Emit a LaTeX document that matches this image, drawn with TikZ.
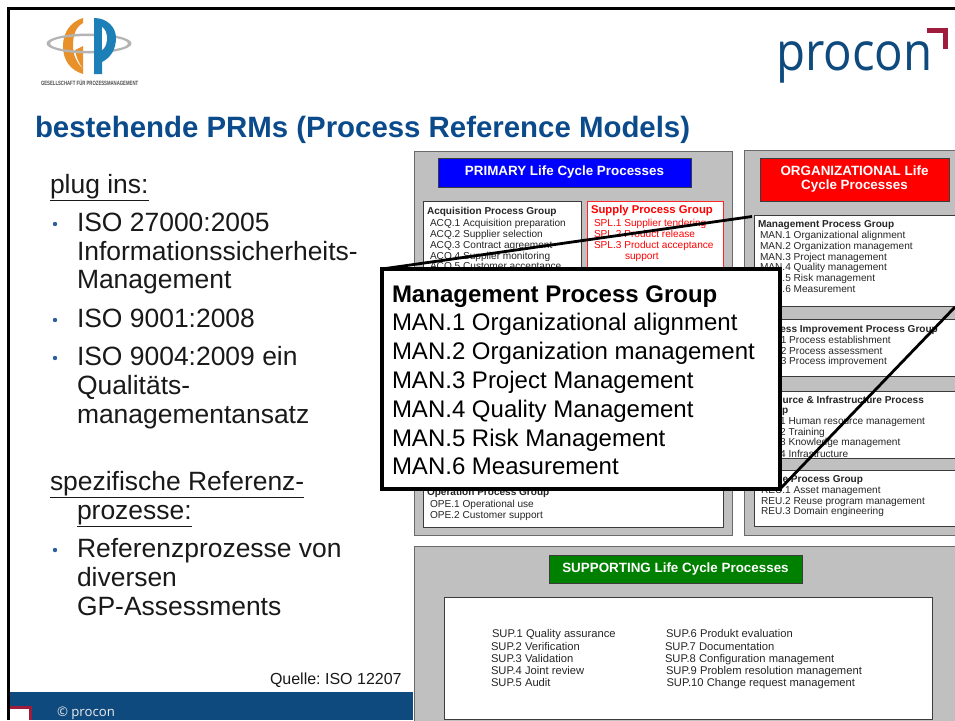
\documentclass[tikz,border=0pt]{standalone}
\usepackage{fontspec}
\setmainfont{Liberation Sans}
\newfontfamily\opensans{Open Sans}
\frenchspacing
\definecolor{procblue}{HTML}{0F4A7E}
\definecolor{titleblue}{HTML}{0B4B8C}
\definecolor{procred}{HTML}{A01C3C}
\definecolor{panelgray}{HTML}{C0C0C0}
\definecolor{edgegray}{HTML}{6A6A6A}
\definecolor{boxedge}{HTML}{3C3C3C}
\definecolor{gporange}{HTML}{E8912B}
\definecolor{gpblue}{HTML}{1C7FB8}
\definecolor{ringgray}{HTML}{B4B4B4}
\definecolor{bulletblue}{HTML}{2A5F9E}
\newcounter{tn}
\newcommand{\T}[4][]{\stepcounter{tn}\node[txt,#1] (t\arabic{tn}) at (#2,#3) {#4};}
\newcommand{\Bu}[2]{\stepcounter{tn}\node[bul] (t\arabic{tn}) at (#1,#2) {};}
\tikzset{
  txt/.style={anchor=base west,inner sep=0pt,outer sep=0pt},
  bul/.style={circle,fill=bulletblue,minimum size=4.4pt,inner sep=0pt},
  small/.style={font=\fontsize{10.1}{11}\selectfont,text=black!85},
  smallb/.style={font=\bfseries\fontsize{10.05}{11}\selectfont,text=black!85},
  smallr/.style={font=\fontsize{10.1}{11}\selectfont,text=red},
  smallrb/.style={font=\bfseries\fontsize{11.3}{12}\selectfont,text=red},
  supt/.style={font=\fontsize{11.2}{12}\selectfont,text=black!85},
  big/.style={font=\fontsize{26.45}{30}\selectfont,text=black!90},
  panel/.style={draw=edgegray,fill=panelgray,line width=1pt},
  wbox/.style={draw=boxedge,fill=white,line width=.9pt},
  head/.style={draw=boxedge,line width=.9pt,align=center,text=white,font=\bfseries\fontsize{13.4}{14}\selectfont},
  mag/.style={font=\fontsize{24}{28}\selectfont,text=black},
  zoomline/.style={draw=black,line width=2.8pt},
}
\newcommand{\Bx}[6][]{\node[anchor=north west,inner sep=0pt,outer sep=0pt,minimum width=#5-#3,minimum height=#6-#4,#1] (#2) at (#3,#4) {};}
\begin{document}
\begin{tikzpicture}[x=1pt,y=-1pt]
\useasboundingbox (0,0) rectangle (955,720);
\clip (0,0) rectangle (955,720);
\fill[white] (0,0) rectangle (955,720);
% GP logo
\fill[gporange] (83,18) .. controls (70,22) and (63,33) .. (63,46) .. controls (63,60) and (70,70) .. (83,74) -- (83,69) .. controls (76,62) and (73,54) .. (73,46) .. controls (73,34) and (76,27) .. (83,23) -- cycle;
\fill[gporange] (75,50) -- (83,46) -- (83,69) .. controls (79,63) and (76,57) .. (75,50) -- cycle;
\fill[ringgray,even odd rule] (89,43.5) ellipse [x radius=42.5,y radius=10] (89,43.5) ellipse [x radius=39,y radius=7.5];
\fill[gpblue] (94,18) .. controls (108,18) and (116,28) .. (116,38) .. controls (116,50) and (110,58) .. (102,62) -- (102,74) -- (94,74) -- cycle;
\fill[white] (102,27) .. controls (105,29) and (107,33) .. (107,38) .. controls (107,44) and (105,48) .. (102,50) -- cycle;
\T[font=\bfseries\fontsize{6.2}{7}\selectfont,text=black!70]{41}{85}{\scalebox{.69}[1]{GESELLSCHAFT FÜR PROZESSMANAGEMENT}}
% procon logo
\T[font=\opensans\fontsize{53}{60}\selectfont,text=procblue]{776}{70}{\scalebox{.895}[1]{procon}}
\node[inner sep=0pt,outer sep=0pt] (cornerA) at (927,30.5) {};
\node[inner sep=0pt,outer sep=0pt] (cornerB) at (945.5,30.5) {};
\node[inner sep=0pt,outer sep=0pt] (cornerC) at (945.5,49) {};
\draw[procred,line width=5.5pt] (cornerA.center) -- (cornerB.center) -- (cornerC.center);
% title
\T[font=\bfseries\fontsize{29.4}{32}\selectfont,text=titleblue]{35}{137}{bestehende PRMs (Process Reference Models)}
% left text
\T[big]{50}{193}{\underline{plug ins:}}
\Bu{55}{224}
\T[big]{77}{231}{ISO 27000:2005}
\T[big]{77}{260}{Informationssicherheits-}
\T[big]{77}{288}{Management}
\Bu{55}{320}
\T[big]{77}{327}{ISO 9001:2008}
\Bu{55}{358}
\T[big]{77}{365}{ISO 9004:2009 ein}
\T[big]{77}{394}{Qualitäts-}
\T[big]{77}{423}{managementansatz}
\T[big]{50}{490}{\underline{spezifische Referenz-}}
\T[big]{77}{519}{\underline{prozesse:}}
\Bu{55}{550}
\T[big]{77}{557}{Referenzprozesse von}
\T[big]{77}{586}{diversen}
\T[big]{77}{615}{GP-Assessments}
\T[font=\fontsize{16}{18}\selectfont,text=black!90]{270}{684}{Quelle: ISO 12207}
% footer
\Bx[fill=procblue]{footer}{9.5}{692}{413}{720}
\Bx[fill=white]{footmark}{9.5}{707}{30}{720}
\draw[procred,line width=3pt] (footmark.north west) -- (footmark.north east) -- (footmark.south east);
\T[font=\opensans\fontsize{13.2}{15}\selectfont,text=white!92!black]{57}{716}{© procon}
% frame
\draw[black,line width=2.6pt] (8.5,720) -- (8.5,8.5) -- (955,8.5);
% primary panel
\Bx[panel]{primary}{414}{151}{732}{535}
\Bx[head,fill=blue]{primhead}{438}{158}{691}{187}
\node[head,draw=none] (primtext) at (primhead.center) {PRIMARY Life Cycle Processes};
\Bx[wbox]{acq}{423}{201}{581}{300}
\T[smallb]{427}{214}{Acquisition Process Group}
\T[small]{430}{226}{ACQ.1 Acquisition preparation}
\T[small]{430}{237}{ACQ.2 Supplier selection}
\T[small]{430}{248}{ACQ.3 Contract agreement}
\T[small]{430}{259}{ACQ.4 Supplier monitoring}
\T[small]{430}{269.5}{ACQ.5 Customer acceptance}
\Bx[wbox,draw=red!85!white]{spl}{587}{201}{723}{300}
\T[smallrb]{591}{213.5}{Supply Process Group}
\T[smallr]{594}{226}{SPL.1 Supplier tendering}
\T[smallr]{594}{237}{SPL.2 Product release}
\T[smallr]{594}{248}{SPL.3 Product acceptance}
\T[smallr]{625}{259}{support}
\Bx[wbox]{ope}{423}{470}{723}{527}
\T[smallb]{427}{495.5}{Operation Process Group}
\T[small]{430}{507.5}{OPE.1 Operational use}
\T[small]{430}{518.5}{OPE.2 Customer support}
% organizational panel
\Bx[panel]{org}{744.5}{150.5}{975}{535}
\Bx[head,fill=red]{orghead}{760}{158}{949}{201}
\node[head,draw=none] (orgtext) at (orghead.center) {ORGANIZATIONAL Life\\Cycle Processes};
\Bx[wbox]{man}{754}{215}{975}{306}
\T[smallb]{758}{227}{Management Process Group}
\T[small]{760}{238.5}{MAN.1 Organizational alignment}
\T[small]{760}{249.5}{MAN.2 Organization management}
\T[small]{760}{260.5}{MAN.3 Project management}
\T[small]{760}{270.5}{MAN.4 Quality management}
\T[small]{760}{281.5}{MAN.5 Risk management}
\T[small]{760}{292.5}{MAN.6 Measurement}
\Bx[wbox]{pim}{754}{319}{975}{376}
\T[smallb]{758}{332}{Process Improvement Process Group}
\T[small]{760}{343}{PIM.1 Process establishment}
\T[small]{760}{354}{PIM.2 Process assessment}
\T[small]{760}{364}{PIM.3 Process improvement}
\Bx[wbox]{rin}{754}{391}{975}{458}
\T[smallb]{758}{403}{Resource \& Infrastructure Process}
\T[smallb]{758}{413.5}{Group}
\T[small]{760}{424}{RIN.1 Human resource management}
\T[small]{760}{435}{RIN.2 Training}
\T[small]{760}{445.5}{RIN.3 Knowledge management}
\T[small]{760}{457}{RIN.4 Infrastructure}
\Bx[wbox]{reu}{754}{470}{975}{526}
\T[smallb]{758}{482}{Reuse Process Group}
\T[small]{761}{493}{REU.1 Asset management}
\T[small]{761}{504}{REU.2 Reuse program management}
\T[small]{761}{514}{REU.3 Domain engineering}
% supporting panel
\Bx[panel]{sup}{414}{546}{975}{730}
\Bx[head,fill=green!50!black]{suphead}{549}{555}{802}{583}
\node[head,draw=none] (suptext) at (suphead.center) {SUPPORTING Life Cycle Processes};
\Bx[wbox]{supbox}{444}{597}{932}{719}
\T[supt]{492}{637}{SUP.1 Quality assurance}
\T[supt]{491}{650}{SUP.2 Verification}
\T[supt]{491}{662}{SUP.3 Validation}
\T[supt]{491}{674}{SUP.4 Joint review}
\T[supt]{491}{686}{SUP.5 Audit}
\T[supt]{666}{637}{SUP.6 Produkt evaluation}
\T[supt]{665}{650}{SUP.7 Documentation}
\T[supt]{665}{662}{SUP.8 Configuration management}
\T[supt]{666}{674}{SUP.9 Problem resolution management}
\T[supt]{666.5}{686}{SUP.10 Change request management}
% magnifier
\Bx[fill=white,draw=black,line width=4pt]{magbox}{382}{269}{780}{489}
\coordinate (zoomA) at (752,216.5);
\coordinate (zoomB) at (955,307);
\draw[zoomline] (magbox.north west) -- (zoomA);
\draw[zoomline] (magbox.south east) -- (zoomB);
\T[mag,font=\bfseries\fontsize{24}{28}\selectfont]{392}{302}{Management Process Group}
\T[mag]{392}{330.5}{MAN.1 Organizational alignment}
\T[mag]{392}{359.5}{MAN.2 Organization management}
\T[mag]{392}{388.5}{MAN.3 Project Management}
\T[mag]{392}{417.5}{MAN.4 Quality Management}
\T[mag]{392}{446.5}{MAN.5 Risk Management}
\T[mag]{392}{474.5}{MAN.6 Measurement}
\end{tikzpicture}
\end{document}
